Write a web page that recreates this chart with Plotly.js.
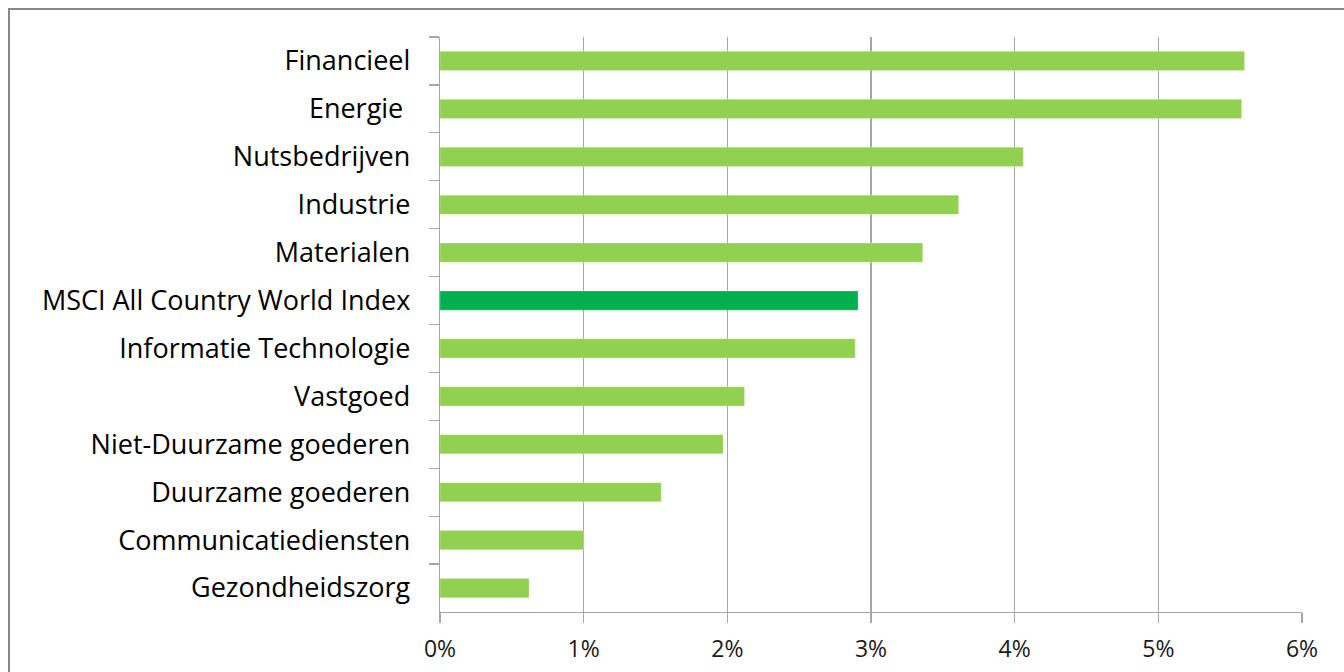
<!DOCTYPE html>
<html>
<head>
<meta charset="utf-8">
<script src="https://cdn.plot.ly/plotly-3.0.1.min.js"></script>
<style>
html,body{margin:0;padding:0;background:#fff;overflow:hidden;}
#wrap{position:relative;width:1344px;height:672px;}
#chart{width:1344px;height:672px;}
#frame{position:absolute;left:8px;top:8px;width:1400px;height:700px;border:2px solid #878787;pointer-events:none;box-sizing:border-box;}
</style>
</head>
<body>
<div id="wrap"><div id="chart"></div><div id="frame"></div></div>
<script>
const categories = ["Financieel","Energie ","Nutsbedrijven","Industrie","Materialen","MSCI All Country World Index","Informatie Technologie","Vastgoed","Niet-Duurzame goederen","Duurzame goederen","Communicatiediensten","Gezondheidszorg"];
const values = [5.60, 5.58, 4.06, 3.61, 3.36, 2.91, 2.89, 2.12, 1.97, 1.54, 1.00, 0.62];
const highlight = "MSCI All Country World Index";
const xTickVals = [0,1,2,3,4,5,6];
const xTickText = ["0%","1%","2%","3%","4%","5%","6%"];

const colors = categories.map(c => c === highlight ? "#00B050" : "#92D050");

const trace = {
  type: "bar",
  orientation: "h",
  y: categories,
  x: values,
  marker: {color: colors, line: {color: "rgba(255,255,255,0.5)", width: 0.5}},
  width: 0.4,
  hoverinfo: "x+y"
};

const layout = {
  width: 1344, height: 672,
  margin: {l: 440, r: 42, t: 37, b: 60, pad: 0},
  paper_bgcolor: "rgba(0,0,0,0)",
  plot_bgcolor: "#ffffff",
  showlegend: false,
  font: {family: "Open Sans, Liberation Sans, Arial, sans-serif", color: "#000"},
  xaxis: {
    range: [0, 6],
    tickvals: xTickVals,
    ticktext: xTickText,
    showgrid: true,
    gridcolor: "#a6a6a6",
    gridwidth: 1.3,
    zeroline: false,
    showline: true,
    linecolor: "#a6a6a6",
    linewidth: 1.3,
    ticks: "outside",
    ticklen: 10,
    tickcolor: "#a6a6a6",
    tickwidth: 1.3,
    ticklabelstandoff: 6,
    tickfont: {size: 23, color: "#1a1a1a"},
    fixedrange: true
  },
  yaxis: {
    type: "category",
    autorange: "reversed",
    showgrid: false,
    zeroline: false,
    showline: true,
    linecolor: "#a6a6a6",
    linewidth: 1.3,
    ticks: "outside",
    tickson: "boundaries",
    ticklen: 10,
    tickcolor: "#a6a6a6",
    tickwidth: 1.3,
    ticklabelstandoff: 23,
    tickfont: {size: 27, color: "#000"},
    fixedrange: true
  },
  bargap: 0.6
};

Plotly.newPlot("chart", [trace], layout, {displayModeBar: false, staticPlot: true});
</script>
</body>
</html>
